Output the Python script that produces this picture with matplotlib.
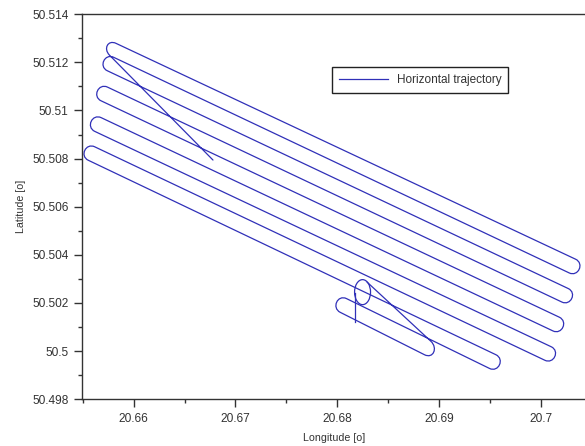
import matplotlib
matplotlib.use("Agg")
import matplotlib.pyplot as plt
import numpy as np
from matplotlib.lines import Line2D
from matplotlib.patches import Ellipse, PathPatch
from matplotlib.path import Path
from matplotlib.ticker import FormatStrFormatter, MultipleLocator

# straight passes of the flight, in flying order (degrees)
leg_lon_start = [20.66779, 20.65826, 20.70279, 20.65741, 20.70207, 20.65680, 20.70119,
                 20.65618, 20.70040, 20.65554, 20.69496, 20.68030, 20.68920]
leg_lat_start = [50.50794, 50.51279, 50.50325, 50.51165, 50.50204, 50.51040, 50.50084,
                 50.50913, 50.49962, 50.50793, 50.49928, 50.50161, 50.50041]
leg_lon_end = [20.65762, 20.70342, 20.65803, 20.70270, 20.65743, 20.70182, 20.65681,
               20.70103, 20.65617, 20.69559, 20.68092, 20.68857, 20.68293]
leg_lat_end = [50.51230, 50.50382, 50.51221, 50.50260, 50.51097, 50.50141, 50.50970,
               50.50018, 50.50849, 50.49985, 50.50218, 50.49985, 50.50287]

# small circle flown at the end and the short tail below it
loop_lon = 20.68249
loop_lat = 50.50245
loop_width = 0.00157
loop_height = 0.00104
tail_lon = [20.68170, 20.68170]
tail_lat = [50.50241, 50.50121]

line_color = "#3030b8"
text_color = "#333333"

plt.rcParams["font.family"] = ["Liberation Sans", "DejaVu Sans"]

fig = plt.figure(figsize=(5.85, 4.46), dpi=100)
ax = fig.add_axes([0.1407, 0.1049, 0.8593, 0.8632])
ax.set_xlim(20.65495, 20.70435)
ax.set_ylim(50.498, 50.514)


def trajectory_path(axis):
    """Join the passes with rounded turns, built in screen space."""
    to_px = axis.transData.transform
    starts = to_px(np.column_stack([leg_lon_start, leg_lat_start]))
    ends = to_px(np.column_stack([leg_lon_end, leg_lat_end]))
    verts = [starts[0], ends[0]]
    codes = [Path.MOVETO, Path.LINETO]
    for i in range(1, len(starts)):
        a, b = ends[i - 1], starts[i]
        out_dir = ends[i - 1] - starts[i - 1]
        out_dir = out_dir / np.hypot(*out_dir)
        back_dir = starts[i] - ends[i]
        back_dir = back_dir / np.hypot(*back_dir)
        gap = np.hypot(*(b - a))
        verts += [a + out_dir * gap * 2 / 3, b + back_dir * gap * 2 / 3, b, ends[i]]
        codes += [Path.CURVE4, Path.CURVE4, Path.CURVE4, Path.LINETO]
    verts = axis.transData.inverted().transform(np.array(verts))
    return Path(verts, codes)


ax.add_patch(PathPatch(trajectory_path(ax), fill=False, edgecolor=line_color,
                       linewidth=0.9, capstyle="round", joinstyle="round"))
ax.add_patch(Ellipse((loop_lon, loop_lat), loop_width, loop_height, fill=False,
                     edgecolor=line_color, linewidth=0.9))
ax.plot(tail_lon, tail_lat, color=line_color, linewidth=0.9)

# axes styling
ax.spines["right"].set_visible(False)
for side in ["left", "bottom", "top"]:
    ax.spines[side].set_color(text_color)
    ax.spines[side].set_linewidth(1.0)
ax.xaxis.set_major_locator(MultipleLocator(0.01))
ax.xaxis.set_minor_locator(MultipleLocator(0.005))
ax.yaxis.set_major_locator(MultipleLocator(0.002))
ax.yaxis.set_minor_locator(MultipleLocator(0.001))
ax.xaxis.set_major_formatter(FormatStrFormatter("%g"))
ax.yaxis.set_major_formatter(FormatStrFormatter("%g"))
ax.tick_params(which="both", direction="out", colors=text_color, labelsize=8.6,
               top=False, right=False)
ax.tick_params(which="major", length=6, width=1.0, pad=4)
ax.tick_params(which="minor", length=3, width=1.0)

ax.set_xlabel("Longitude [o]", fontsize=7.7, color=text_color, labelpad=6)
ax.set_ylabel("Latitude [o]", fontsize=7.7, color=text_color, labelpad=4)

handle = Line2D([], [], color=line_color, linewidth=0.9)
leg = ax.legend([handle], ["Horizontal trajectory"], loc="upper left",
                bbox_to_anchor=(0.567, 0.8504), bbox_transform=fig.transFigure,
                fontsize=8.5, frameon=True, fancybox=False, framealpha=1,
                edgecolor="#222222", borderpad=0.6, handlelength=4.2,
                handletextpad=0.7, borderaxespad=0)
leg.get_frame().set_linewidth(1.0)
for txt in leg.get_texts():
    txt.set_color(text_color)

fig.savefig("out.png", dpi=100)
